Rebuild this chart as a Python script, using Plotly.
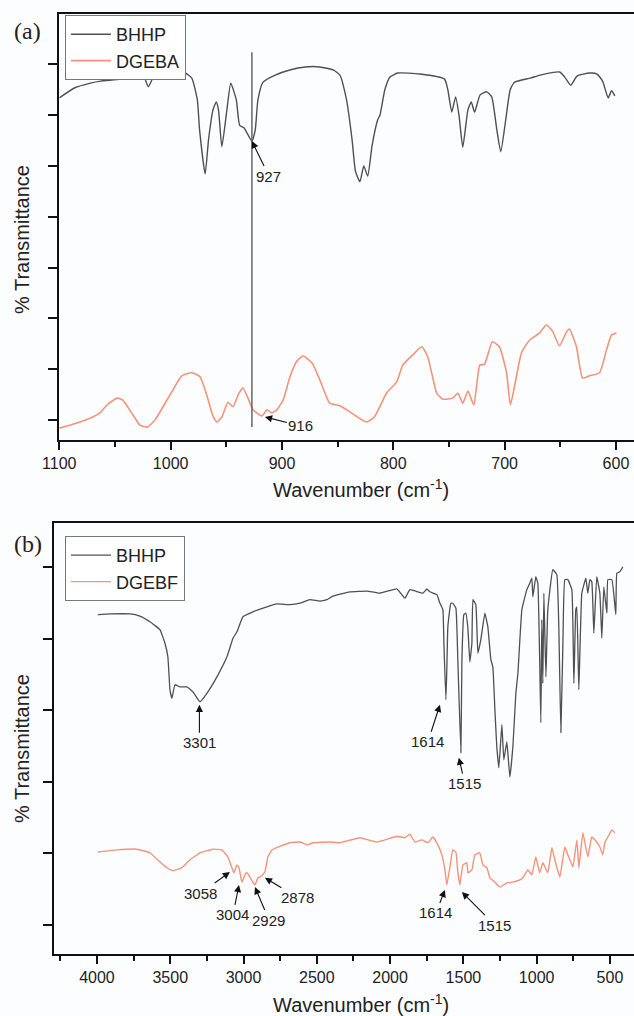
import plotly.graph_objects as go

# ---------------- data: panel (a) ----------------
wn_a_bhhp = [1100, 1086, 1072, 1063, 1045, 1032, 1025, 1020, 1014, 1001, 987, 981, 976, 974, 969, 966,
             962, 959, 957, 954, 949.5, 946, 941, 938, 934, 927, 924, 921.6, 917, 906, 893, 879, 866,
             854, 848, 842, 837, 834, 830, 826.5, 823, 819, 814, 812, 807.6, 803, 796, 776, 754, 751,
             747.5, 744, 741, 737.6, 733, 730, 727, 722, 716, 711.6, 707, 703.5, 699, 695, 691, 677,
             668, 650.5, 646, 640.6, 635, 623.6, 617, 612, 607, 604, 601]
t_a_bhhp = [63.4, 65.4, 66.3, 66.7, 67.1, 67.7, 68.1, 65.6, 68.1, 68.5, 68.3, 67.3, 63.0, 57.1, 48.4, 55.1,
            61.0, 62.6, 61.0, 53.8, 61.0, 66.3, 63.0, 58.0, 57.5, 54.9, 57.1, 63.0, 66.5, 67.9, 68.9, 69.5, 69.5,
            68.9, 67.9, 63.0, 55.1, 49.0, 46.9, 50.0, 48.0, 54.1, 59.1, 60.0, 65.0, 67.5, 68.3, 68.1, 67.1, 65.0,
            60.6, 63.6, 60.0, 53.7, 61.0, 62.6, 60.6, 64.0, 64.6, 63.6, 57.1, 52.8, 59.1, 65.0, 66.5, 67.3,
            67.9, 68.5, 67.5, 65.9, 67.7, 68.3, 68.1, 66.7, 63.4, 64.8, 63.8]

wn_a_dgeba = [1100, 1090, 1072, 1063.5, 1057, 1048, 1043, 1035, 1027.6, 1021, 1014, 1005, 998, 990, 981,
              973.6, 967, 962, 958.4, 954, 948.5, 944, 938.6, 935, 930.5, 926, 918, 913.5, 909, 904.6, 899,
              892.8, 886.6, 881, 873, 866, 857, 848, 839, 824, 817, 806, 797, 791.5, 782.5, 774.4, 769,
              761, 755.6, 746.6, 742, 737.6, 733, 727.7, 722.3, 718, 711, 704.7, 698.3, 694.8, 691.2,
              684.9, 677.7, 668.8, 662.5, 657, 650.8, 644.5, 641.8, 635.5, 630, 623.8, 614.8, 608.5, 604, 599.5]
t_a_dgeba = [-1.6, -1.0, 0.4, 1.4, 3.0, 4.3, 3.9, 1.4, -1.0, -1.4, 0.0, 3.3, 5.9, 8.7, 9.3,
             8.5, 4.5, 0.8, -0.4, 0.6, 3.5, 2.6, 5.3, 6.3, 4.3, 2.0, 0.8, 2.0, 1.4, 2.0, 3.9,
             8.5, 11.6, 12.6, 11.2, 7.9, 3.3, 2.8, 1.6, -0.4, 0.6, 5.3, 7.5, 10.8, 12.8, 14.4, 12.4,
             5.3, 4.1, 4.3, 5.3, 3.3, 5.7, 3.0, 10.8, 11.0, 15.4, 14.4, 9.3, 3.0, 6.5,
             13.2, 15.7, 17.1, 18.7, 17.5, 14.6, 17.3, 17.9, 14.4, 8.3, 8.7, 9.3, 13.8, 16.7, 17.1]

marker_wn_a = 927
marker_t_a = [72.4, -1.4]

labels_a = ["927", "916"]
arrow_wn_a = [927, 915.3]
arrow_t_a = [54.9, 0.6]

# ---------------- data: panel (b) ----------------
wn_b_bhhp = [3993, 3911, 3775, 3707, 3638.5, 3570, 3536, 3516, 3502, 3488.4, 3468, 3434, 3386, 3345, 3297.4,
             3250, 3181.5, 3113, 3072, 3045, 3004, 2936, 2840.4, 2772, 2683.5, 2615, 2547, 2479, 2431, 2390,
             2274, 2158, 2070, 1954, 1899, 1865, 1776, 1749, 1729, 1681, 1660, 1640, 1633, 1619.5, 1613, 1606,
             1585.5, 1572, 1551, 1538, 1517, 1510, 1497, 1483, 1470, 1456, 1442, 1435, 1415, 1401, 1381,
             1353.5, 1333, 1312.5, 1299, 1285, 1272, 1258, 1237.5, 1224, 1203.4, 1183, 1162.5, 1142, 1128,
             1101, 1067, 1047, 1033, 1026, 1006, 992, 971.5, 965, 958, 951, 937, 924, 890, 862.4, 849, 835,
             821, 808, 787.4, 760, 746, 733, 726, 712.4, 692, 664.5, 651, 637, 624, 610, 590, 569, 555.4,
             542, 521, 514.5, 487, 460, 453, 433, 412]
t_b_bhhp = [43.4, 43.5, 43.5, 43.2, 42.4, 41.3, 39.4, 37.5, 32.9, 31.7, 33.6, 33.3, 33.3, 32.6, 31.2,
            32.4, 34.7, 37.5, 40.1, 41.0, 43.1, 43.8, 44.5, 44.9, 44.8, 45.0, 45.5, 45.3, 45.5, 46.0,
            46.6, 46.7, 46.4, 47.0, 45.7, 46.9, 46.4, 47.0, 46.6, 46.2, 45.0, 44.1, 39.4, 31.5, 35.7, 41.7,
            45.0, 45.0, 44.3, 37.1, 24.1, 37.1, 43.4, 43.6, 41.7, 36.8, 39.4, 45.5, 44.8, 38.0, 39.9,
            43.6, 41.7, 37.1, 36.1, 30.1, 24.9, 22.0, 28.0, 23.1, 25.6, 20.7, 24.9, 32.4, 35.2,
            44.1, 46.9, 47.8, 48.5, 45.9, 48.7, 47.8, 28.3, 42.7, 33.8, 46.4, 34.7, 44.1, 49.7, 49.0, 41.7, 26.9,
            39.4, 48.3, 48.3, 46.9, 33.8, 44.1, 44.5, 32.9, 46.4, 48.5, 46.4, 48.3, 48.0, 40.8, 48.7, 46.4, 40.1,
            47.3, 43.6, 48.3, 48.3, 43.4, 49.2, 49.4, 50.1]

wn_b_dgebf = [3993, 3864, 3727, 3638.5, 3570, 3522.5, 3482, 3420, 3366, 3297.4, 3209, 3147.4, 3106.5, 3079,
              3066, 3045, 3031, 3011, 2990.5, 2977, 2956, 2943, 2922, 2902, 2888, 2875, 2854, 2834, 2806.3,
              2752, 2683.5, 2615, 2561, 2527, 2411, 2342.5, 2206, 2090, 1954, 1899, 1865, 1831, 1783, 1742,
              1708, 1674, 1647, 1626, 1613, 1592, 1572, 1551, 1538, 1524, 1503.5, 1476, 1469, 1442, 1422,
              1388, 1367, 1340, 1319, 1285, 1251, 1203, 1162.5, 1115, 1094, 1060, 1033, 1006, 979, 958, 924,
              896, 876, 842, 808, 787, 753, 726, 712, 685, 651, 624, 590, 569, 549, 535, 514.5, 487, 467]
t_b_dgebf = [10.2, 10.5, 10.6, 10.1, 8.8, 8.0, 7.6, 8.0, 9.1, 10.1, 10.6, 10.5, 9.5, 8.0,
             7.3, 8.4, 8.0, 6.0, 7.0, 7.3, 6.7, 6.2, 5.6, 6.6, 6.7, 6.9, 7.4, 9.5, 10.5,
             11.0, 11.5, 11.6, 11.2, 11.5, 11.6, 11.5, 12.2, 11.6, 12.4, 12.2, 12.7, 11.6, 11.9, 11.5,
             12.3, 11.2, 9.8, 7.7, 5.6, 8.1, 10.5, 10.2, 7.4, 5.6, 8.4, 8.7, 7.3, 7.7, 9.8,
             10.1, 8.4, 8.0, 6.6, 6.0, 5.3, 5.9, 6.0, 6.3, 6.6, 7.7, 7.0, 9.5, 7.3, 8.7, 7.3,
             10.8, 9.1, 6.7, 10.9, 9.8, 8.1, 11.9, 8.0, 12.9, 9.5, 12.3, 11.6, 10.9, 9.8, 11.5, 12.3, 13.3, 12.9]

labels_b = ["3301", "1614", "1515", "3058", "3004", "2929", "2878", "1614", "1515"]
arrow_wn_b = [3301, 1660, 1531, 3093, 3031, 2922, 2854, 1626, 1510]
arrow_t_b = [30.8, 30.8, 23.4, 7.4, 5.6, 5.3, 6.6, 4.9, 4.6]

x_ticks_a = [1100, 1000, 900, 800, 700, 600]
x_ticks_b = [4000, 3500, 3000, 2500, 2000, 1500, 1000, 500]

# ---------------- styling ----------------
W, H = 634, 1016
GRAY = "#505050"
SALMON = "#F4937A"
FONT = "Liberation Sans, Arial, sans-serif"


def px_x(p):
    return p / W


def px_y(p):
    return 1 - p / H


fig = go.Figure()

fig.add_trace(go.Scatter(x=wn_a_bhhp, y=t_a_bhhp, mode="lines", name="BHHP",
                         line=dict(color=GRAY, width=1.4, shape="spline", smoothing=0.5),
                         xaxis="x", yaxis="y", legend="legend"))
fig.add_trace(go.Scatter(x=wn_a_dgeba, y=t_a_dgeba, mode="lines", name="DGEBA",
                         line=dict(color=SALMON, width=1.6, shape="spline", smoothing=0.5),
                         xaxis="x", yaxis="y", legend="legend"))
fig.add_trace(go.Scatter(x=[marker_wn_a, marker_wn_a], y=marker_t_a, mode="lines", showlegend=False,
                         line=dict(color="#666666", width=1.5), xaxis="x", yaxis="y", hoverinfo="skip"))

fig.add_trace(go.Scatter(x=wn_b_bhhp, y=t_b_bhhp, mode="lines", name="BHHP",
                         line=dict(color=GRAY, width=1.3, shape="spline", smoothing=0.3),
                         xaxis="x2", yaxis="y2", legend="legend2"))
fig.add_trace(go.Scatter(x=wn_b_dgebf, y=t_b_dgebf, mode="lines", name="DGEBF",
                         line=dict(color=SALMON, width=1.4, shape="spline", smoothing=0.3),
                         xaxis="x2", yaxis="y2", legend="legend2"))

axis_common = dict(showline=True, linecolor="#111111", linewidth=2, ticks="outside",
                   tickcolor="#111111", tickwidth=1.5, showgrid=False, zeroline=False,
                   automargin=False,
                   tickfont=dict(family=FONT, size=16, color="#222222"))

legend_common = dict(xanchor="left", yanchor="top", bgcolor="white", bordercolor="#777777",
                     borderwidth=1, font=dict(family=FONT, size=18, color="#222222"),
                     tracegroupgap=0, itemwidth=40)

fig.update_layout(
    width=W, height=H,
    margin=dict(l=0, r=0, t=0, b=0, pad=0, autoexpand=False),
    paper_bgcolor="#FCFDFF", plot_bgcolor="#FCFDFF",
    font=dict(family=FONT, color="#222222"),
    xaxis=dict(domain=[px_x(59.3), 1.0], range=[1100, 583.8], anchor="y", mirror=True,
               tickvals=x_ticks_a, ticklen=8,
               minor=dict(dtick=50, tick0=1100, ticks="outside", ticklen=5, tickcolor="#111111"),
               **axis_common),
    yaxis=dict(domain=[px_y(440), px_y(14)], range=[-3.94, 79.92], anchor="x",
               dtick=10, tick0=0, ticklen=9, showticklabels=False, **axis_common),
    xaxis2=dict(domain=[px_x(54), 1.0], range=[4293, 336], anchor="y2", mirror=True,
                tickvals=x_ticks_b, ticklen=8,
                minor=dict(dtick=250, tick0=4000, ticks="outside", ticklen=5, tickcolor="#111111"),
                **axis_common),
    yaxis2=dict(domain=[px_y(954), px_y(523)], range=[-4.06, 56.22], anchor="x2",
                dtick=10, tick0=0, ticklen=9, showticklabels=False, **axis_common),
    legend=dict(x=px_x(65), y=px_y(15), **legend_common),
    legend2=dict(x=px_x(65), y=px_y(536), **legend_common),
)

ann = []
SERIF = "Liberation Serif, Times New Roman, serif"
# panel letters
ann.append(dict(text="(a)", x=px_x(27), y=px_y(31), xref="paper", yref="paper", showarrow=False,
                xanchor="center", yanchor="middle",
                font=dict(family=SERIF, size=24, color="#222222")))
ann.append(dict(text="(b)", x=px_x(28), y=px_y(544), xref="paper", yref="paper", showarrow=False,
                xanchor="center", yanchor="middle",
                font=dict(family=SERIF, size=24, color="#222222")))
# axis titles
for yy in (240, 749):
    ann.append(dict(text="% Transmittance", x=px_x(22), y=px_y(yy), xref="paper", yref="paper",
                    xanchor="center", yanchor="middle",
                    showarrow=False, textangle=-90, font=dict(family=FONT, size=20, color="#222222")))
for yy in (488, 1003):
    ann.append(dict(text="Wavenumber (cm<sup>-1</sup>)", x=px_x(361), y=px_y(yy), xref="paper", yref="paper",
                    xanchor="center", yanchor="middle",
                    showarrow=False, font=dict(family=FONT, size=20, color="#222222")))

# peak labels panel (a)
offs_a = [(17, 35), (36, 9)]
for lab, xw, yt, (dx, dy) in zip(labels_a, arrow_wn_a, arrow_t_a, offs_a):
    ann.append(dict(text=lab, x=xw, y=yt, xref="x", yref="y", ax=dx, ay=dy, showarrow=True,
                    arrowhead=2, arrowsize=1.3, arrowwidth=1.1, arrowcolor="#111111", standoff=0,
                    font=dict(family=FONT, size=15, color="#222222")))

offs_b = [(0, 38), (-12, 37), (6, 26), (-29, 21), (-6, 30), (14, 33), (33, 20), (-9, 23), (33, 33)]
for lab, xw, yt, (dx, dy) in zip(labels_b, arrow_wn_b, arrow_t_b, offs_b):
    ann.append(dict(text=lab, x=xw, y=yt, xref="x2", yref="y2", ax=dx, ay=dy, showarrow=True,
                    arrowhead=2, arrowsize=1.3, arrowwidth=1.1, arrowcolor="#111111", standoff=0,
                    font=dict(family=FONT, size=15, color="#222222")))

fig.update_layout(annotations=ann)

fig.write_html("out.html")
